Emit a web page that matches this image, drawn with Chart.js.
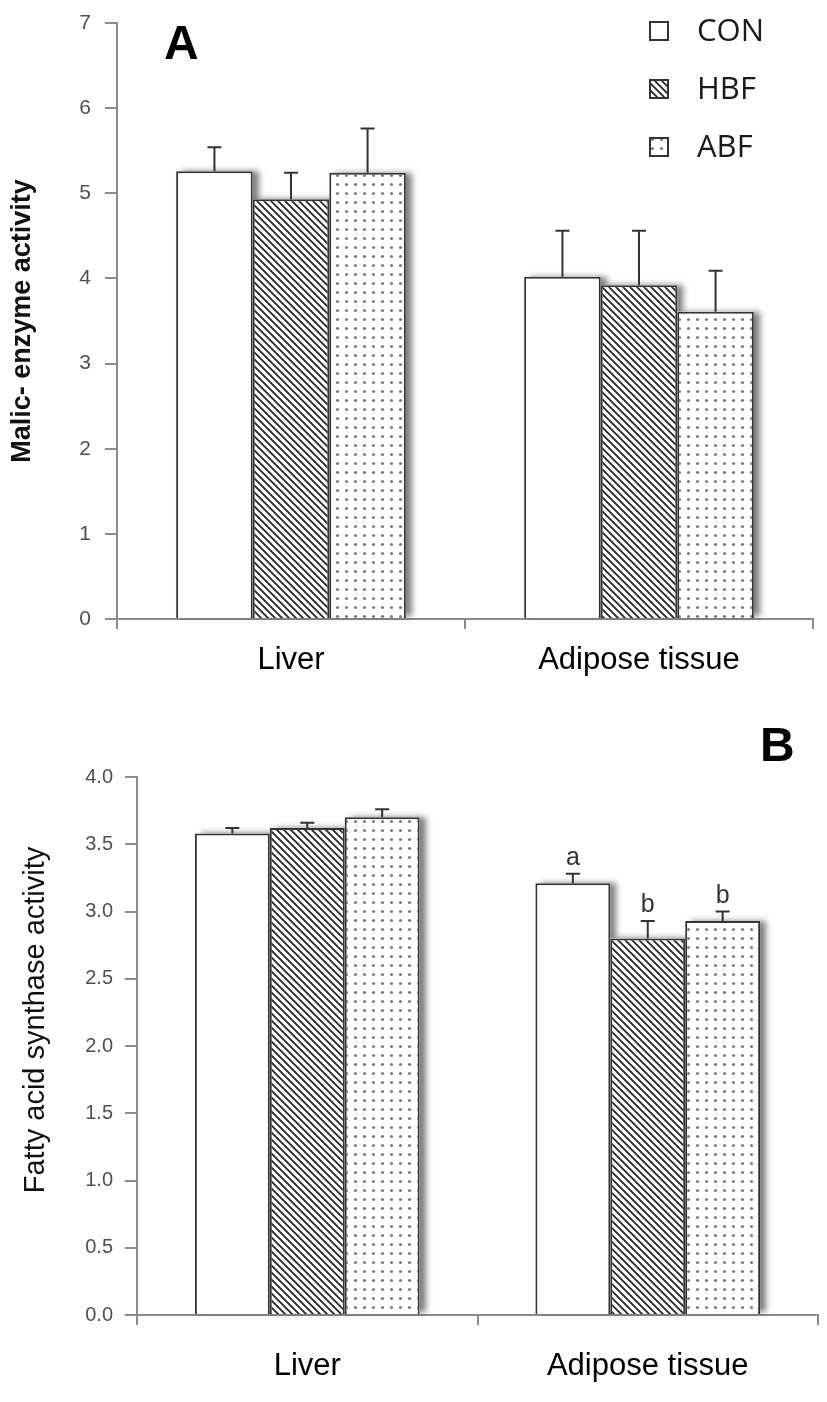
<!DOCTYPE html>
<html>
<head>
<meta charset="utf-8">
<script src="https://cdn.jsdelivr.net/npm/chart.js@4.4.0/dist/chart.umd.min.js"></script>
<style>
  body { margin: 0; background: #fff; width: 827px; height: 1402px; overflow: hidden; }
  .box { position: absolute; left: 0; width: 827px; }
  #boxA { top: 0; height: 700px; }
  #boxB { top: 700px; height: 702px; }
</style>
</head>
<body>
<div class="box" id="boxA"><canvas id="chartA"></canvas></div>
<div class="box" id="boxB"><canvas id="chartB"></canvas></div>
<script>
var groups = ['CON', 'HBF', 'ABF'];
var tissues = ['Liver', 'Adipose tissue'];

// panel A - malic enzyme
var malicCON = [5.26, 4.02];
var malicHBF = [4.93, 3.92];
var malicABF = [5.24, 3.61];
var malicErrCON = [0.28, 0.54];
var malicErrHBF = [0.31, 0.64];
var malicErrABF = [0.52, 0.48];
var malicTicks = [0, 1, 2, 3, 4, 5, 6, 7];

// panel B - fatty acid synthase
var fasCON = [3.58, 3.21];
var fasHBF = [3.62, 2.80];
var fasABF = [3.70, 2.93];
var fasErrCON = [0.04, 0.07];
var fasErrHBF = [0.04, 0.13];
var fasErrABF = [0.06, 0.07];
var fasLetCON = ['', 'a'];
var fasLetHBF = ['', 'b'];
var fasLetABF = ['', 'b'];
var fasTicks = [0, 0.5, 1, 1.5, 2, 2.5, 3, 3.5, 4];
var fasTickLabels = ['0.0', '0.5', '1.0', '1.5', '2.0', '2.5', '3.0', '3.5', '4.0'];

var FONT = '"Liberation Sans", Arial, sans-serif';

function hatchPattern() {
  var c = document.createElement('canvas');
  c.width = 7; c.height = 7;
  var g = c.getContext('2d');
  g.fillStyle = '#fff';
  g.fillRect(0, 0, 7, 7);
  g.strokeStyle = '#262626';
  g.lineWidth = 1.8;
  g.beginPath();
  g.moveTo(-1, -1); g.lineTo(8, 8);
  g.moveTo(-1, 6); g.lineTo(1, 8);
  g.moveTo(6, -1); g.lineTo(8, 1);
  g.stroke();
  return g.createPattern(c, 'repeat');
}

function dotPattern() {
  var c = document.createElement('canvas');
  c.width = 9; c.height = 9;
  var g = c.getContext('2d');
  g.fillStyle = '#fff';
  g.fillRect(0, 0, 9, 9);
  g.fillStyle = '#7d7d7d';
  g.beginPath();
  g.arc(4.5, 4.5, 1.6, 0, Math.PI * 2);
  g.fill();
  return g.createPattern(c, 'repeat');
}

var fills = ['#ffffff', hatchPattern(), dotPattern()];

// soft grey shadow to the right of every bar (later bars cover the earlier ones)
var barShadow = {
  id: 'barShadow',
  beforeDatasetsDraw: function(chart) {
    var ctx = chart.ctx;
    ctx.save();
    ctx.shadowColor = 'rgba(0,0,0,0.5)';
    ctx.shadowBlur = 6;
    ctx.shadowOffsetX = 6;
    ctx.shadowOffsetY = 0;
    ctx.fillStyle = '#fff';
    chart.data.datasets.forEach(function(ds, i) {
      chart.getDatasetMeta(i).data.forEach(function(bar) {
        ctx.fillRect(bar.x - bar.width / 2, bar.y, bar.width, bar.base - bar.y - 2);
      });
    });
    ctx.restore();
  }
};

// upper whiskers + significance letters
var errorBars = {
  id: 'errorBars',
  afterDatasetsDraw: function(chart) {
    var ctx = chart.ctx;
    var y = chart.scales.y;
    chart.data.datasets.forEach(function(ds, i) {
      chart.getDatasetMeta(i).data.forEach(function(bar, j) {
        var top = y.getPixelForValue(ds.data[j] + ds.errors[j]);
        ctx.save();
        ctx.strokeStyle = '#333';
        ctx.lineWidth = 2;
        ctx.beginPath();
        ctx.moveTo(bar.x, bar.y);
        ctx.lineTo(bar.x, top);
        ctx.moveTo(bar.x - 7, top);
        ctx.lineTo(bar.x + 7, top);
        ctx.stroke();
        if (ds.letters && ds.letters[j]) {
          ctx.fillStyle = '#333';
          ctx.font = '25px ' + FONT;
          ctx.textAlign = 'center';
          ctx.textBaseline = 'bottom';
          ctx.fillText(ds.letters[j], bar.x, top - 3);
        }
        ctx.restore();
      });
    });
  }
};

// panel letter, optional rotated axis title and (for A) the legend
var panelDecor = {
  id: 'panelDecor',
  afterDraw: function(chart, args, opts) {
    var ctx = chart.ctx;
    ctx.save();
    ctx.fillStyle = '#000';
    ctx.font = 'bold 48px ' + FONT;
    ctx.textAlign = 'left';
    ctx.textBaseline = 'middle';
    ctx.fillText(opts.letter, opts.lx, opts.ly);
    if (opts.title) {
      ctx.save();
      ctx.translate(opts.tx, opts.ty);
      ctx.rotate(-Math.PI / 2);
      ctx.textAlign = 'center';
      ctx.fillStyle = '#111';
      ctx.font = opts.titleFont;
      ctx.fillText(opts.title, 0, 0);
      ctx.restore();
    }
    if (opts.legend) {
      chart.data.datasets.forEach(function(ds, i) {
        var cy = 31 + i * 58;
        ctx.fillStyle = ds.backgroundColor;
        ctx.fillRect(650, cy - 9, 18, 18);
        ctx.strokeStyle = '#333';
        ctx.lineWidth = 2;
        ctx.strokeRect(650, cy - 9, 18, 18);
        ctx.fillStyle = '#1a1a1a';
        ctx.font = '31px "Open Sans", "Noto Sans", sans-serif';
        ctx.fillText(ds.label, 697, cy + 1);
      });
    }
    ctx.restore();
  }
};

function makeDatasets(vals, errs, lets) {
  return groups.map(function(g, i) {
    return {
      label: g,
      data: vals[i],
      errors: errs[i],
      letters: lets ? lets[i] : null,
      backgroundColor: fills[i],
      borderColor: '#333',
      borderWidth: 2,
      categoryPercentage: 0.66,
      barPercentage: 1.0
    };
  });
}

function makeChart(id, cfg) {
  return new Chart(document.getElementById(id), {
    type: 'bar',
    data: {
      labels: tissues,
      datasets: makeDatasets(cfg.vals, cfg.errs, cfg.lets)
    },
    plugins: [barShadow, errorBars, panelDecor],
    options: {
      responsive: true,
      maintainAspectRatio: false,
      animation: false,
      devicePixelRatio: 1,
      layout: { padding: cfg.padding },
      plugins: {
        legend: { display: false },
        tooltip: { enabled: false },
        panelDecor: cfg.decor
      },
      scales: {
        x: {
          offset: true,
          grid: { offset: true, drawOnChartArea: false, tickLength: 10, color: '#8c8c8c', lineWidth: 2 },
          border: { color: '#8c8c8c', width: 2 },
          ticks: { color: '#000', padding: cfg.xPad, font: { size: 31, family: FONT } },
          afterFit: function(s) { s.height = cfg.xHeight; }
        },
        y: {
          min: cfg.ticks[0],
          max: cfg.ticks[cfg.ticks.length - 1],
          afterBuildTicks: function(s) { s.ticks = cfg.ticks.map(function(v) { return { value: v }; }); },
          grid: { drawOnChartArea: false, tickLength: 12, color: '#8c8c8c', lineWidth: 2 },
          border: { color: '#8c8c8c', width: 2 },
          ticks: {
            color: '#505050',
            padding: cfg.yPad,
            font: { size: cfg.yTickSize, family: FONT },
            callback: cfg.tickLabel
          },
          title: {
            display: !!cfg.yTitle,
            text: cfg.yTitle,
            color: '#111',
            padding: { top: 6, bottom: 0 },
            font: { size: 27, weight: 'bold', family: FONT }
          },
          afterFit: function(s) {
            s.width = cfg.yWidth;
            s.paddingTop = 0;
            s.paddingBottom = 0;
          }
        }
      }
    }
  });
}

makeChart('chartA', {
  vals: [malicCON, malicHBF, malicABF],
  errs: [malicErrCON, malicErrHBF, malicErrABF],
  ticks: malicTicks,
  tickLabel: function(v) { return v; },
  yTitle: 'Malic- enzyme activity',
  yTickSize: 21, yPad: 14,
  yWidth: 117, xHeight: 81, xPad: 13,
  padding: { top: 23, right: 14, left: 0, bottom: 0 },
  decor: { letter: 'A', lx: 164, ly: 46, legend: true }
});

makeChart('chartB', {
  vals: [fasCON, fasHBF, fasABF],
  errs: [fasErrCON, fasErrHBF, fasErrABF],
  lets: [fasLetCON, fasLetHBF, fasLetABF],
  ticks: fasTicks,
  tickLabel: function(v, i) { return fasTickLabels[i]; },
  yTitle: '',
  yTickSize: 20, yPad: 12,
  yWidth: 137, xHeight: 87, xPad: 23,
  padding: { top: 77, right: 9, left: 0, bottom: 0 },
  decor: {
    letter: 'B', lx: 760, ly: 48, legend: false,
    title: 'Fatty acid synthase activity', tx: 36, ty: 320,
    titleFont: '29px ' + FONT
  }
});
</script>
</body>
</html>
